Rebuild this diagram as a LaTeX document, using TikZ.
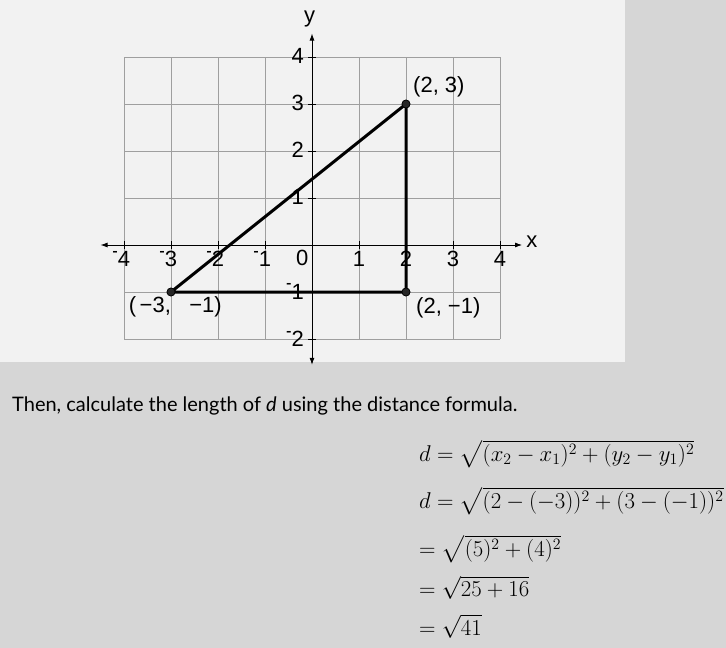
\documentclass[tikz,border=0pt]{standalone}
\usepackage{fontspec}
\usepackage{graphicx}
\usepackage{amsmath}
\newfontfamily\labfont{Liberation Sans}
\newfontfamily\txtfont{Lato}
\usetikzlibrary{arrows.meta}
\definecolor{bgc}{gray}{0.84}
\definecolor{panelc}{gray}{0.95}
\newcommand{\nm}{\raisebox{0.42em}{\scalebox{0.75}[0.9]{-}}}
\newcommand{\fml}[1]{\scalebox{1.1}{$#1$}}
\tikzset{
  gridline/.style={draw=gray!75, line width=0.6pt},
  axisline/.style={draw=black, line width=0.9pt, {Latex[length=7pt,width=5pt]}-{Latex[length=7pt,width=5pt]}},
  tickmark/.style={draw=black, line width=0.8pt},
  ticklab/.style={font=\labfont\fontsize{22}{24}\selectfont, inner sep=0pt},
  ptlab/.style={font=\labfont\fontsize{22}{24}\selectfont, inner sep=0pt},
  tri/.style={draw=black, line width=3pt},
  ptdot/.style={circle, fill=black!85, draw=black, line width=0.6pt, minimum size=8pt, inner sep=0pt},
  formula/.style={font=\fontsize{20.74}{25}\selectfont, inner sep=0pt, anchor=base west},
  sentence/.style={font=\txtfont\fontsize{20}{23}\selectfont, inner sep=0pt, anchor=base west}
}
\begin{document}
\begin{tikzpicture}[x=1pt,y=-1pt]
\useasboundingbox (0,0) rectangle (726,648);
\fill[bgc] (0,0) rectangle (726,648);
\fill[panelc] (0,0) rectangle (625,362);
\begin{scope}[shift={(312,245)}, x=47pt, y=47pt]
  \foreach \i in {-4,...,4} {\draw[gridline] (\i,-2) -- (\i,4);}
  \foreach \j in {-2,...,4} {\draw[gridline] (-4,\j) -- (4,\j);}
  \coordinate (xl) at (-4.5,0);
  \coordinate (xr) at (4.47,0);
  \coordinate (yb) at (0,-2.55);
  \coordinate (yt) at (0,4.5);
  \draw[axisline] (xl) -- (xr);
  \draw[axisline] (yb) -- (yt);
  \foreach \i in {-4,...,4} {\draw[tickmark] (\i,-0.08) -- (\i,0.08);}
  \foreach \j in {-2,...,4} {\draw[tickmark] (-0.08,\j) -- (0.08,\j);}
  % x tick labels
  \node[ticklab] (xtm4) at (-4,-0.3) {\llap{\nm}4};
  \node[ticklab] (xtm3) at (-3,-0.3) {\llap{\nm}3};
  \node[ticklab] (xtm2) at (-2,-0.3) {\llap{\nm}2};
  \node[ticklab] (xtm1) at (-1,-0.3) {\llap{\nm}1};
  \node[ticklab] (xt0) at (-0.21,-0.28) {0};
  \node[ticklab] (xt1) at (1,-0.3) {1};
  \node[ticklab] (xt2) at (2,-0.3) {2};
  \node[ticklab] (xt3) at (3,-0.3) {3};
  \node[ticklab] (xt4) at (4,-0.3) {4};
  % y tick labels
  \node[ticklab, anchor=east] (yt4) at (-0.17,4.03) {4};
  \node[ticklab, anchor=east] (yt3) at (-0.17,3.02) {3};
  \node[ticklab, anchor=east] (yt2) at (-0.17,2.02) {2};
  \node[ticklab, anchor=east] (yt1) at (-0.17,1.02) {1};
  \node[ticklab, anchor=east] (ytm1) at (-0.17,-0.99) {\nm1};
  \node[ticklab, anchor=east] (ytm2) at (-0.17,-2.0) {\nm2};
  % axis names
  \node[ticklab] (xname) at (4.68,0.06) {x};
  \node[ticklab] (yname) at (-0.05,4.8) {y};
  % triangle
  \node[ptdot] (A) at (-3,-1) {};
  \node[ptdot] (B) at (2,3) {};
  \node[ptdot] (C) at (2,-1) {};
  \draw[tri] (A.center) -- (B.center) -- (C.center) -- cycle;
  \node[ptdot] at (A) {};
  \node[ptdot] at (B) {};
  \node[ptdot] at (C) {};
  \node[ptlab] (Alab) at (-2.91,-1.32) {(\,−3,\;\; −1)};
  \node[ptlab] (Blab) at (2.7,3.36) {(2, 3)};
  \node[ptlab] (Clab) at (2.9,-1.33) {(2, −1)};
\end{scope}
\node[sentence] (sent) at (12,411) {Then, calculate the length of \textit{d} using the distance formula.};
\node[formula] (f1) at (419,461) {\fml{d=\sqrt{(x_2-x_1)^2+(y_2-y_1)^2}}};
\node[formula] (f2) at (419,508) {\fml{d=\sqrt{(2-(-3))^2+(3-(-1))^2}}};
\node[formula] (f3) at (419,556) {\fml{=\sqrt{(5)^2+(4)^2}}};
\node[formula] (f4) at (419,596) {\fml{=\sqrt{25+16}}};
\node[formula] (f5) at (419,635) {\fml{=\sqrt{41}}};
\end{tikzpicture}
\end{document}
